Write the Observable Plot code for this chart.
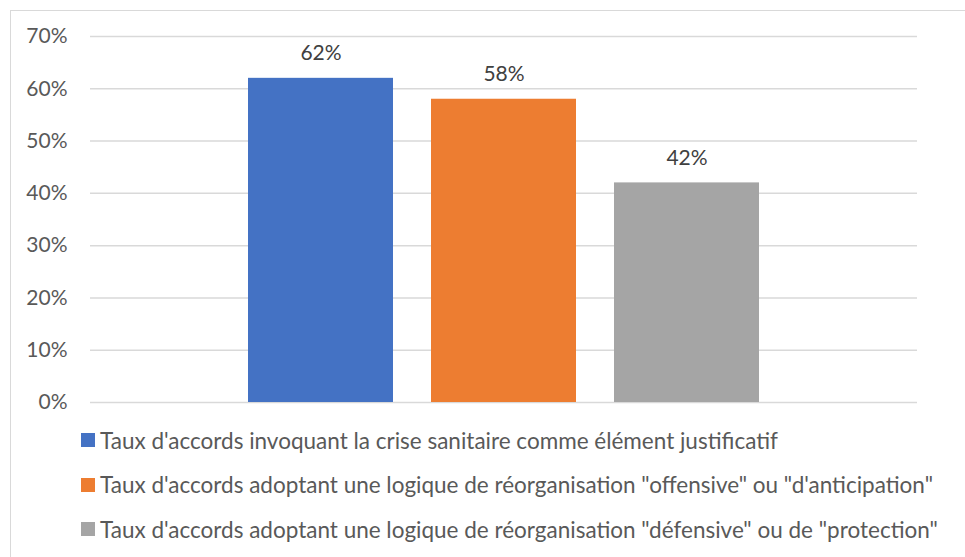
<!DOCTYPE html>
<html>
<head>
<meta charset="utf-8">
<script src="https://cdn.jsdelivr.net/npm/d3@7"></script>
<script src="https://cdn.jsdelivr.net/npm/@observablehq/plot@0.6"></script>
<style>
  html, body { margin: 0; padding: 0; background: #fff; }
  body { width: 965px; height: 557px; overflow: hidden; position: relative; font-family: Lato, "Open Sans", sans-serif; }
  #frame { position: absolute; left: 10px; top: 10px; width: 1000px; height: 600px; border: 1px solid #d9d9d9; box-sizing: border-box; }
  #chart { position: absolute; left: 0; top: 0; }
  #legend { position: absolute; left: 81px; top: 418px; color: #595959; font-size: 22.5px; }
  .item { display: flex; align-items: center; height: 44.5px; white-space: nowrap; }
  .sw { width: 14px; height: 14px; margin-right: 5px; flex: none; }
</style>
</head>
<body>
<div id="frame"></div>
<div id="chart"></div>
<div id="legend"></div>
<script>
const series = [
  "Taux d'accords invoquant la crise sanitaire comme élément justificatif",
  "Taux d'accords adoptant une logique de réorganisation \"offensive\" ou \"d'anticipation\"",
  "Taux d'accords adoptant une logique de réorganisation \"défensive\" ou de \"protection\""
];
const values = [0.62, 0.58, 0.42];
const colors = ["#4472C4", "#ED7D31", "#A5A5A5"];
const yTicks = [0, 0.1, 0.2, 0.3, 0.4, 0.5, 0.6, 0.7];

const data = series.map((s, i) => ({series: s, value: values[i]}));
const pct = v => Math.round(v * 100) + "%";

const chart = Plot.plot({
  width: 965,
  height: 420,
  marginLeft: 90,
  marginRight: 48,
  marginTop: 36,
  marginBottom: 18,
  style: {fontFamily: "Lato, 'Open Sans', sans-serif", fontSize: "21px", color: "#595959", background: "transparent"},
  x: {domain: series, range: [229, 778], paddingInner: 0.2077, paddingOuter: 0.1038, axis: null},
  y: {domain: [0, 0.7], axis: null},
  color: {domain: series, range: colors},
  marks: [
    Plot.ruleY(yTicks, {stroke: "#d9d9d9", strokeWidth: 1.5}),
    Plot.barY(data, {x: "series", y: "value", fill: "series"}),
    Plot.text(data, {x: "series", y: "value", text: d => pct(d.value), dy: -25, fill: "#404040", fontSize: 21}),
    Plot.axisY(yTicks, {tickFormat: pct, tickSize: 0, tickPadding: 23, label: null, fill: "#595959", fontSize: 21})
  ]
});
document.getElementById("chart").appendChild(chart);

const legend = document.getElementById("legend");
series.forEach((s, i) => {
  const item = document.createElement("div");
  item.className = "item";
  const sw = document.createElement("span");
  sw.className = "sw";
  sw.style.background = colors[i];
  const t = document.createElement("span");
  t.textContent = s;
  item.appendChild(sw);
  item.appendChild(t);
  legend.appendChild(item);
});
</script>
</body>
</html>
